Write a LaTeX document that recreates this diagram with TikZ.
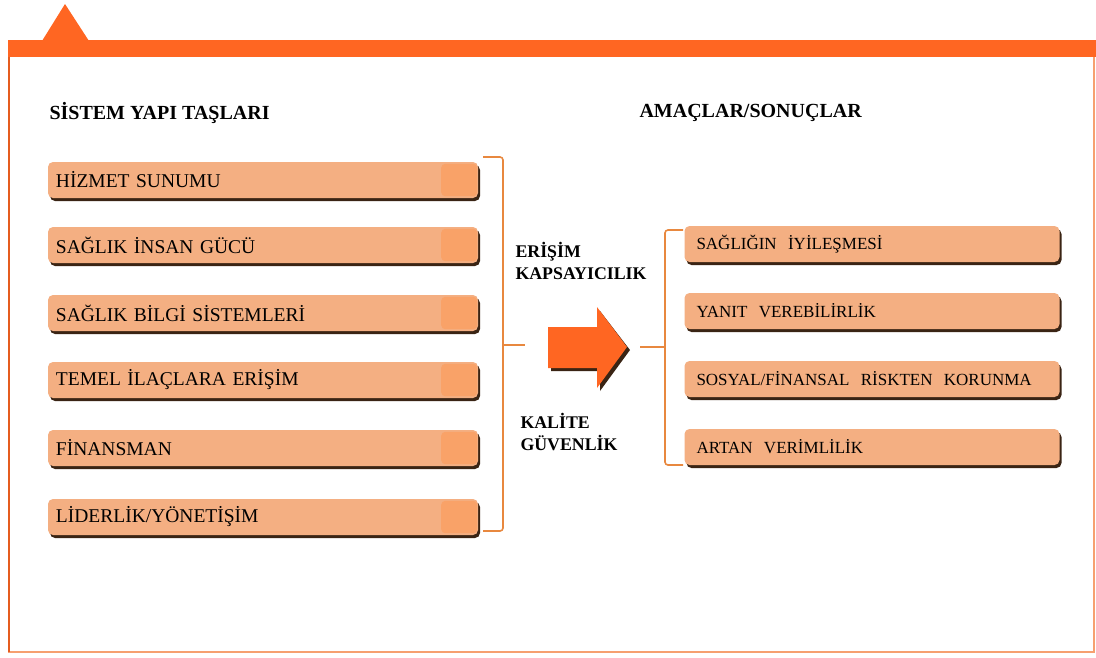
\documentclass[tikz,border=0pt]{standalone}
\usepackage{fontspec}
\setmainfont{Liberation Serif}
\begin{document}
\begin{tikzpicture}[x=1pt,y=-1pt,
  lbox/.style={rounded corners=5pt, fill=boxfill, minimum width=430pt, minimum height=36pt,
    inner xsep=8pt, inner ysep=0pt, text width=414pt, align=left, font=\fontsize{19.5}{21}\selectfont,
    preaction={fill=boxshadow, transform canvas={shift={(2pt,-3pt)}}}},
  rbox/.style={lbox, minimum width=375pt, text width=351pt, inner xsep=12pt, font=\fontsize{17}{18}\selectfont},
  sq/.style={fill=boxsq, rounded corners=4pt},
  brk/.style={draw=brkcol, line width=1.6pt, rounded corners=3pt},
  head/.style={font=\bfseries\fontsize{20}{22}\selectfont, anchor=west},
  mid/.style={font=\bfseries\fontsize{17.8}{22}\selectfont, align=left, anchor=west}]
\definecolor{boxfill}{HTML}{F4AF82}
\definecolor{boxsq}{HTML}{F9A268}
\definecolor{boxshadow}{HTML}{3A2414}
\definecolor{barcol}{HTML}{FF6622}
\definecolor{brkcol}{HTML}{E8883F}
\definecolor{framecol}{HTML}{F6A070}
\useasboundingbox (0,0) rectangle (1096,657);
\fill[white] (0,0) rectangle (1096,657);
% frame
\draw[framecol, line width=1.2pt] (9,57) -- (9,652) -- (1094,652) -- (1094,57);
\draw[barcol!90!black, line width=2pt] (9,57) -- (9,652);
\fill[barcol] (8,40) rectangle (1096,57);
\fill[barcol] (42,41) -- (65,4) -- (89,41) -- cycle;
% headings
\node[head] (h1) at (46,113) {SİSTEM YAPI TAŞLARI};
\node[head] (h2) at (636,113) {AMAÇLAR/SONUÇLAR};
% left boxes
\foreach \n/\y/\t in {1/180/{HİZMET SUNUMU}, 2/245/{SAĞLIK İNSAN GÜCÜ}, 3/313/{SAĞLIK BİLGİ SİSTEMLERİ},
  4/380/{TEMEL İLAÇLARA ERİŞİM}, 5/448/{FİNANSMAN}, 6/517/{LİDERLİK/YÖNETİŞİM}}{
  \node[lbox] (b\n) at (263,\y) {\t};
  \fill[sq] ([xshift=-37pt,yshift=-2pt]b\n.north east) rectangle ([xshift=-1pt,yshift=2pt]b\n.south east);
}
% right boxes
\foreach \n/\y/\t in {1/244/{SAĞLIĞIN\ \ İYİLEŞMESİ}, 2/311/{YANIT\ \ VEREBİLİRLİK},
  3/379/{SOSYAL/FİNANSAL\ \ RİSKTEN\ \ KORUNMA}, 4/447/{ARTAN\ \ VERİMLİLİK}}{
  \node[rbox] (r\n) at (872,\y) {\t};
}
% left bracket
\coordinate (lt) at (483,157);
\coordinate (lb) at (483,531);
\coordinate (lm) at (525,345);
\draw[brk] (lt) -- (503,157) -- (503,531) -- (lb);
\draw[brk] (503,345) -- (lm);
% right bracket
\coordinate (rt) at (683,230);
\coordinate (rb) at (683,465);
\coordinate (rm) at (640,347);
\draw[brk] (rt) -- (665,230) -- (665,465) -- (rb);
\draw[brk] (rm) -- (665,347);
% arrow
\fill[boxshadow] (551,330) -- (600,330) -- (600,311) -- (630,350) -- (600,391) -- (600,371) -- (551,371) -- cycle;
\fill[barcol] (548,327) -- (597,327) -- (597,307) -- (627,347) -- (597,388) -- (597,368) -- (548,368) -- cycle;
% middle texts
\node[mid] (m1) at (512,261) {ERİŞİM\\KAPSAYICILIK};
\node[mid] (m2) at (517,432) {KALİTE\\GÜVENLİK};
\end{tikzpicture}
\end{document}
